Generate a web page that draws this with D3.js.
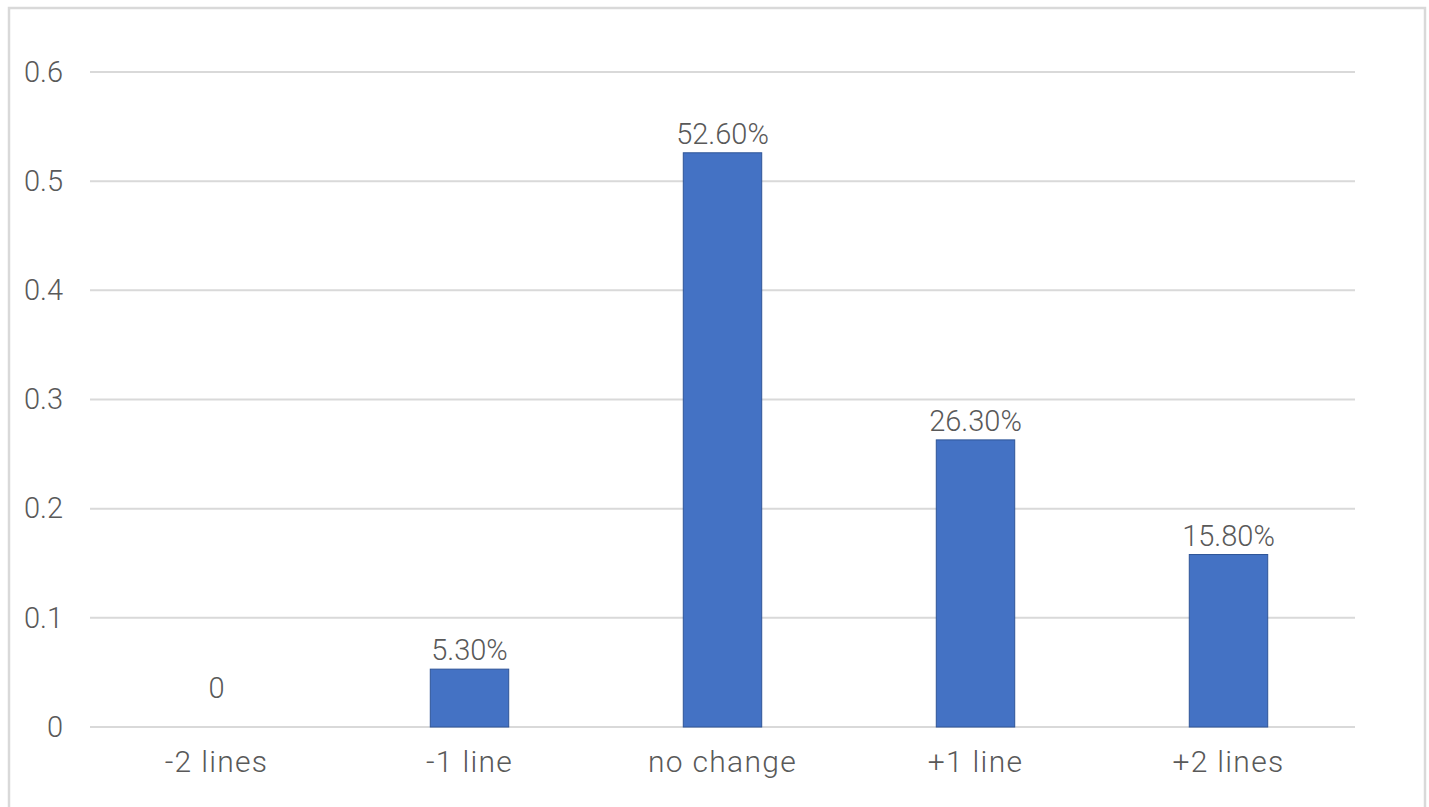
<!DOCTYPE html>
<html>
<head>
<meta charset="utf-8">
<script src="https://cdn.jsdelivr.net/npm/d3@7"></script>
<style>
  html, body { margin: 0; padding: 0; background: #fff; }
  svg { display: block; }
  text { font-family: Roboto, "Noto Sans", sans-serif; fill: #595959; font-weight: 300; }
</style>
</head>
<body>
<svg id="chart" width="1429" height="807"></svg>
<script>
// Share of responses by change in line count
const categories = ["-2 lines", "-1 line", "no change", "+1 line", "+2 lines"];
const shares = [0, 0.053, 0.526, 0.263, 0.158];
const valueLabels = ["0", "5.30%", "52.60%", "26.30%", "15.80%"];
const yTicks = [0, 0.1, 0.2, 0.3, 0.4, 0.5, 0.6];

const plot = { left: 90, right: 1355, top: 72, bottom: 727 };
const font = "Roboto, 'Noto Sans', sans-serif";

const svg = d3.select("#chart");

// outer frame
svg.append("rect")
  .attr("x", 9).attr("y", 8)
  .attr("width", 1416).attr("height", 820)
  .attr("fill", "none")
  .attr("stroke", "#d9d9d9")
  .attr("stroke-width", 2.5);

const x = d3.scaleBand()
  .domain(categories)
  .range([plot.left, plot.right])
  .paddingInner(0.69)
  .paddingOuter(0.345);

const y = d3.scaleLinear()
  .domain([0, 0.6])
  .range([plot.bottom, plot.top]);

// horizontal gridlines
svg.append("g")
  .selectAll("line")
  .data(yTicks)
  .join("line")
  .attr("x1", plot.left).attr("x2", plot.right)
  .attr("y1", d => y(d)).attr("y2", d => y(d))
  .attr("stroke", "#d9d9d9")
  .attr("stroke-width", 2);

// y axis labels
const yAxis = d3.axisLeft(y)
  .tickValues(yTicks)
  .tickFormat(d => d === 0 ? "0" : d3.format(".1f")(d))
  .tickSize(0)
  .tickPadding(0);

svg.append("g")
  .attr("transform", `translate(${plot.left - 27},0)`)
  .call(yAxis)
  .call(g => g.select(".domain").remove())
  .call(g => g.selectAll("text")
    .attr("font-size", 29)
    .attr("fill", "#595959")
    .style("font-family", font)
    .style("font-weight", 300));

// x axis labels
const xAxis = d3.axisBottom(x).tickSize(0).tickPadding(0);
svg.append("g")
  .attr("transform", `translate(0,${plot.bottom + 24})`)
  .call(xAxis)
  .call(g => g.select(".domain").remove())
  .call(g => g.selectAll("text")
    .attr("dy", "0.71em")
    .attr("font-size", 30)
    .attr("fill", "#595959")
    .style("letter-spacing", "1.3px")
    .style("font-family", font)
    .style("font-weight", 300));

// bars
svg.append("g")
  .selectAll("rect")
  .data(shares)
  .join("rect")
  .attr("x", (d, i) => x(categories[i]))
  .attr("width", x.bandwidth())
  .attr("y", d => y(d))
  .attr("height", d => y(0) - y(d))
  .attr("fill", "#4472c4")
  .attr("stroke", d => d > 0 ? "#2f5597" : "none")
  .attr("stroke-width", 1);

// value labels above bars
svg.append("g")
  .selectAll("text")
  .data(shares)
  .join("text")
  .attr("x", (d, i) => x(categories[i]) + x.bandwidth() / 2)
  .attr("y", d => y(d) - (d === 0 ? 29 : 9))
  .attr("text-anchor", "middle")
  .attr("font-size", 29)
  .text((d, i) => valueLabels[i]);
</script>
</body>
</html>
